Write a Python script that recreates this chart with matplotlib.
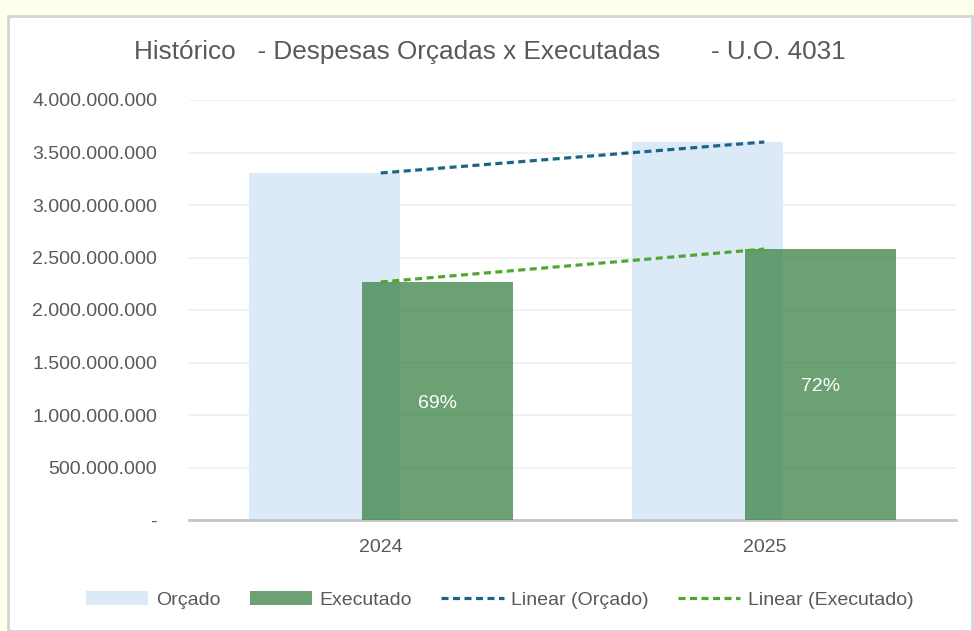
import numpy as np
import matplotlib.pyplot as plt
from matplotlib.patches import Rectangle, Patch
from matplotlib.lines import Line2D
from matplotlib.ticker import FuncFormatter

# dados
anos = ['2024', '2025']
orcado = [3.305e9, 3.60e9]
executado = [2.267e9, 2.58e9]
percentuais = ['69%', '72%']
yticks = np.arange(0, 4.0e9 + 1, 5e8)

cinza = '#595959'
fam = ['Liberation Sans', 'DejaVu Sans']
plt.rcParams['font.family'] = fam

W, H = 974, 631
fig = plt.figure(figsize=(W / 100, H / 100), dpi=100)
fig.patch.set_facecolor('#FFFFEE')
# área branca do gráfico
fig.patches.append(Rectangle((8 / W, 0), 1 - 10 / W, 1 - 16 / H,
                             transform=fig.transFigure, facecolor='white',
                             edgecolor='#D4D4D4', linewidth=2, zorder=-5))

ax = fig.add_axes([189 / W, (H - 520) / H, 767 / W, 420 / H])
ax.set_facecolor('none')

x = np.arange(len(anos))
larg = 0.394
desl = 0.147
estilo = (0, (2.2, 1.4))
ax.bar(x - desl, orcado, width=larg, color='#DCE9F6', zorder=2, label='Orçado')
ax.bar(x + desl, executado, width=larg, color='#3A8244', alpha=0.75,
       zorder=3, label='Executado')

for xi, v, p in zip(x, executado, percentuais):
    ax.text(xi + desl, v / 2 - 2e7, p, ha='center', va='center', color='white',
            fontsize=14, zorder=5)

# linhas de tendência (dois pontos -> passam pelos valores)
ax.plot(x, orcado, color='#1B6688', linestyle=estilo, linewidth=2.3, zorder=4)
ax.plot(x, executado, color='#4EA72E', linestyle=estilo, linewidth=2.3, zorder=4)

ax.set_xlim(-0.5, 1.5)
ax.set_ylim(0, 4.0e9)
ax.set_yticks(yticks)
ax.yaxis.set_major_formatter(FuncFormatter(
    lambda v, _: '-' if v == 0 else f'{v:,.0f}'.replace(',', '.')))
ax.set_xticks(x)
ax.set_xticklabels(anos)
ax.grid(axis='y', color='#EFEFEF', linewidth=1.2, zorder=0)
ax.set_axisbelow(True)
for s in ['top', 'right', 'left']:
    ax.spines[s].set_visible(False)
ax.spines['bottom'].set_color('#C4C4C4')
ax.spines['bottom'].set_linewidth(2)
ax.tick_params(axis='both', length=0, labelcolor=cinza, labelsize=14)
ax.tick_params(axis='y', pad=23)
ax.tick_params(axis='x', pad=14)

fig.text(490 / W, 1 - 52 / H, 'Histórico   - Despesas Orçadas x Executadas       - U.O. 4031',
         ha='center', va='center', fontsize=18.8, color=cinza)

handles = [Patch(facecolor='#DCE9F6', label='Orçado'),
           Patch(facecolor='#6BA173', label='Executado'),
           Line2D([], [], color='#1B6688', linestyle=estilo, linewidth=2.3,
                  label='Linear (Orçado)'),
           Line2D([], [], color='#4EA72E', linestyle=estilo, linewidth=2.3,
                  label='Linear (Executado)')]
fig.legend(handles=handles, loc='center', bbox_to_anchor=(500 / W, 1 - 600 / H),
           ncol=4, frameon=False, fontsize=14, labelcolor=cinza,
           handlelength=3.2, handleheight=0.75, columnspacing=1.5, handletextpad=0.4)

fig.savefig('out.png', dpi=100, facecolor=fig.get_facecolor())
